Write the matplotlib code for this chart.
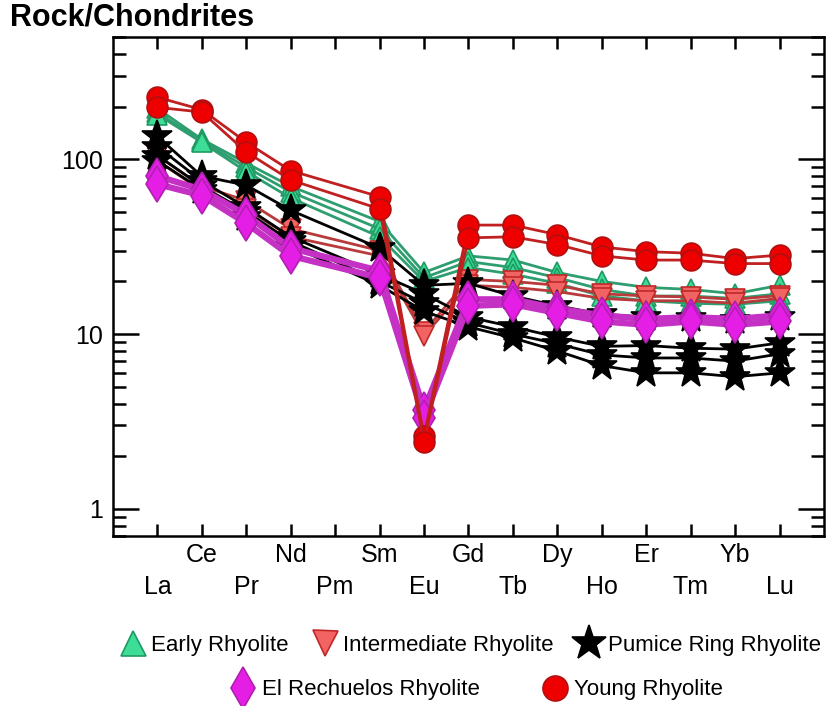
import matplotlib.pyplot as plt
from matplotlib.lines import Line2D
from matplotlib.ticker import LogLocator, NullFormatter

plt.rcParams['font.family'] = ['Liberation Sans', 'DejaVu Sans']

elements = ['La', 'Ce', 'Pr', 'Nd', 'Pm', 'Sm', 'Eu', 'Gd', 'Tb', 'Dy', 'Ho', 'Er', 'Tm', 'Yb', 'Lu']
# Pm has no data, so the samples skip it
measured = ['La', 'Ce', 'Pr', 'Nd', 'Sm', 'Eu', 'Gd', 'Tb', 'Dy', 'Ho', 'Er', 'Tm', 'Yb', 'Lu']

early = [
    [195, 130, 95, 70, 44, 22.5, 28, 26.5, 22.5, 20, 18.5, 18, 17, 19],
    [185, 127, 90, 65, 40, 21, 26, 24, 21, 18, 16.5, 16.5, 16, 17],
    [180, 125, 85, 60, 36, 20, 24, 22, 19.5, 16.5, 15.5, 15, 14.8, 15.5],
]
intermediate = [
    [105, 70, 58, 40, 30, 10.3, 20.5, 20, 19, 17, 16.5, 16.3, 15.8, 16.6],
    [98, 66, 52, 36, 28, 9.8, 19, 18.5, 17.5, 16, 15.5, 15.5, 15, 16],
]
pumice = [
    [135, 80, 71, 51, 31, 19, 19.5, 16.5, 14.5, 13, 12.5, 12.3, 12, 12.5],
    [118, 75, 53, 36, 22, 17, 12.5, 11, 9.6, 8.5, 8.6, 8.3, 8.2, 8.9],
    [105, 70, 50, 34, 20, 15, 11.6, 10, 8.8, 7.6, 7.3, 7.3, 7.0, 7.7],
    [98, 67, 47, 32, 19, 13.5, 11, 9.5, 8.0, 6.6, 6.0, 6.0, 5.7, 6.0],
]
rechuelos = [
    [80, 67, 48, 31, 23, 3.7, 15.8, 15.8, 14, 12.8, 12.2, 12.5, 12.2, 12.8],
    [72, 62, 43, 28, 21, 3.3, 14.5, 14.8, 13.2, 11.8, 11.3, 11.8, 11.3, 11.8],
]
young = [
    [226, 192, 125, 86, 61, 2.6, 42, 42, 37, 31.5, 29.6, 29, 27, 28.3],
    [198, 186, 110, 76, 52, 2.4, 35.5, 36, 32.5, 28, 26.5, 26.5, 25.3, 25.3],
]

groups = [
    ('Early Rhyolite', early, '^', 15, '#3ddc97', '#1e9a63', '#2e9e70', 2),
    ('Intermediate Rhyolite', intermediate, 'v', 15, '#f26464', '#c02828', '#b83a3a', 2),
    ('Pumice Ring Rhyolite', pumice, '*', 23, 'black', 'black', 'black', 2),
    ('El Rechuelos Rhyolite', rechuelos, 'd', 18, '#e51ee5', '#b020b0', '#c530c5', 4.5),
    ('Young Rhyolite', young, 'o', 15, '#ee0000', '#b01010', '#c02020', 2),
]

xpos = [elements.index(e) + 1 for e in measured]

fig = plt.figure(figsize=(8.27, 7.06), dpi=100)
ax = fig.add_axes([0.1366, 0.2408, 0.8597, 0.7068])

handles = []
for name, samples, mk, ms, face, edge, lc, lw in groups:
    for vals in samples:
        ax.plot(xpos, vals, color=lc, lw=lw, marker=mk, ms=ms,
                mfc=face, mec=edge, mew=1.2)
    handles.append(Line2D([], [], ls='none', marker=mk, ms=ms + 3,
                          mfc=face, mec=edge, mew=1.2, label=name))

ax.set_yscale('log')
ax.set_ylim(0.7, 500)
ax.set_xlim(0, 16)

ax.set_xticks(range(1, 16))
ax.set_xticklabels([('\n' + e) if i % 2 == 0 else (e + '\n') for i, e in enumerate(elements)])
for lbl in ax.get_xticklabels():
    lbl.set_linespacing(1.45)

ax.set_yticks([1, 10, 100])
ax.set_yticklabels(['1', '10', '100'])
ax.yaxis.set_minor_locator(LogLocator(base=10, subs=range(2, 10)))
ax.yaxis.set_minor_formatter(NullFormatter())

ax.tick_params(axis='x', direction='in', top=True, length=8.5, width=1.8, labelsize=18, pad=5)
ax.tick_params(axis='y', which='major', direction='in', right=True, length=19, width=1.8, labelsize=18, pad=7)
ax.tick_params(axis='y', which='minor', direction='in', right=True, length=9.5, width=1.8)
for sp in ax.spines.values():
    sp.set_linewidth(1.8)

fig.text(0.012, 1 - 18 / 706, 'Rock/Chondrites', fontsize=22, fontweight='bold', va='center', ha='left')

fig.legend(handles=handles[:3], loc='center', bbox_to_anchor=(0.57, 1 - 645 / 706), ncol=3,
           frameon=False, fontsize=16, handlelength=1.0, handletextpad=0.35, columnspacing=1.1)
fig.legend(handles=handles[3:], loc='center', bbox_to_anchor=(0.577, 1 - 690 / 706), ncol=2,
           frameon=False, fontsize=16, handlelength=1.0, handletextpad=0.35, columnspacing=2.9)

fig.savefig('out.png', dpi=100)
